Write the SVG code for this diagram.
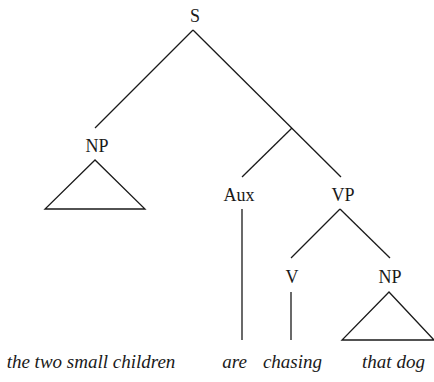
<svg xmlns="http://www.w3.org/2000/svg" width="434" height="382" viewBox="0 0 434 382">
<style>
text{font-family:"Liberation Serif","Times New Roman",serif;font-size:18px;fill:#1a1a1a;text-anchor:middle}
.w{font-style:italic;font-size:19px}
line,polygon{stroke:#1a1a1a;stroke-width:1.3;fill:none}
</style>
<rect width="434" height="382" fill="#fff"/>
<g id="n-S"><text x="195" y="22">S</text></g>
<g id="n-NP1"><text x="97" y="152">NP</text><polygon points="95,160 45,209 145,209"/></g>
<g id="n-Aux"><text x="239" y="201">Aux</text></g>
<g id="n-VP"><text x="343" y="201">VP</text></g>
<g id="n-V"><text x="292" y="283">V</text></g>
<g id="n-NP2"><text x="390" y="283">NP</text><polygon points="389,292 342,340 434,340"/></g>
<g id="words">
<text class="w" x="91" y="368">the two small children</text>
<text class="w" x="234.5" y="368">are</text>
<text class="w" x="292.5" y="368">chasing</text>
<text class="w" x="393.5" y="368">that dog</text>
</g>
<g id="connectors">
<line x1="193" y1="30" x2="95" y2="128"/>
<line x1="193" y1="30" x2="341" y2="177"/>
<line x1="292" y1="128" x2="242" y2="177"/>
<line x1="242" y1="209" x2="242" y2="340"/>
<line x1="340" y1="209" x2="291" y2="258"/>
<line x1="340" y1="209" x2="390" y2="258"/>
<line x1="291" y1="292" x2="291" y2="340"/>
</g>
</svg>
